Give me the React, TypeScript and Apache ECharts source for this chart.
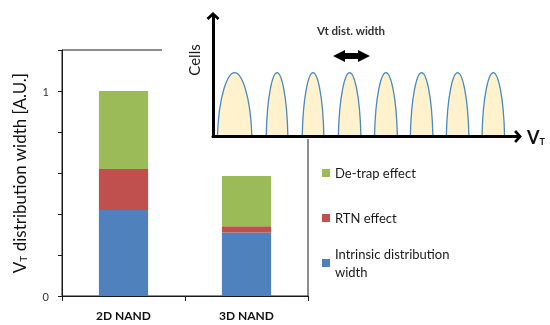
import React, { useEffect, useRef } from 'react';
import * as echarts from 'echarts';

const categories = ['2D NAND', '3D NAND'];
const intrinsicWidth = [0.42, 0.31];
const rtnEffect = [0.2, 0.03];
const detrapEffect = [0.38, 0.245];
const yTickValues = [0, 1];
const yTickLabels = ['0', '1'];

const seriesNames = ['Intrinsic distribution width', 'RTN effect', 'De-trap effect'];
const seriesColors = ['#4f81bd', '#c0504d', '#9bbb59'];

// inset: schematic Vt distributions
const humpCenters = [7.1, 21.0, 32.8, 44.8, 56.7, 68.4, 80.2, 91.9];
const humpWidths = [11.3, 7.1, 7.1, 7.4, 7.5, 7.4, 7.4, 7.4];
const humpHeights = [53, 53, 53, 53, 53, 53, 53, 53];

const FONT = 'Lato, "Open Sans", sans-serif';
const arrowPath = 'path://M0,9 L10,0 L20,9 L17,12 L10,5.5 L3,12 Z';

export default function App() {
  const ref = useRef<HTMLDivElement>(null);
  useEffect(() => {
    const chart = echarts.init(ref.current!, null, { renderer: 'svg' });
    const humpData = humpCenters.map((c, i) => [c, humpWidths[i], humpHeights[i]]);
    const legendText = { fontSize: 13, lineHeight: 18, color: '#1a1a1a', fontFamily: FONT };
    const mkLegend = (name: string, top: number, extra: any = {}) => ({
      data: [name],
      orient: 'vertical',
      left: 322,
      top,
      padding: 0,
      itemWidth: 8,
      itemHeight: 8,
      icon: 'rect',
      selectedMode: false,
      textStyle: { ...legendText, ...(extra.textStyle || {}) },
      ...(extra.formatter ? { formatter: extra.formatter } : {}),
    });
    const values = [intrinsicWidth, rtnEffect, detrapEffect];
    chart.setOption({
      animation: false,
      textStyle: { fontFamily: FONT },
      grid: [
        { left: 62, right: 242, top: 50, bottom: 29, show: true, borderColor: '#1a1a1a', borderWidth: 1, z: 0 },
        { left: 213, right: 32, top: 16, bottom: 188.5, z: 100 },
      ],
      xAxis: [
        {
          type: 'category',
          gridIndex: 0,
          data: categories,
          axisLine: { lineStyle: { color: '#1a1a1a' } },
          axisTick: { show: true, length: 5, lineStyle: { color: '#1a1a1a' } },
          axisLabel: { fontWeight: 'bold', fontSize: 12, color: '#111', margin: 13, fontFamily: FONT },
        },
        {
          type: 'value',
          gridIndex: 1,
          min: 0,
          max: 100,
          z: 100,
          axisLine: { show: true, symbol: ['none', arrowPath], symbolSize: [13, 12], lineStyle: { color: '#000', width: 3 } },
          axisTick: { show: false },
          axisLabel: { show: false },
          splitLine: { show: false },
          name: '{v|V}{t|T}',
          nameLocation: 'end',
          nameGap: 9,
          nameTextStyle: {
            rich: {
              v: { fontSize: 18, fontWeight: 'bold', color: '#111', fontFamily: FONT },
              t: { fontSize: 9, fontWeight: 'bold', color: '#111', verticalAlign: 'bottom', fontFamily: FONT },
            },
          },
        },
      ],
      yAxis: [
        {
          type: 'value',
          gridIndex: 0,
          min: 0,
          max: 1.2,
          interval: 0.2,
          splitLine: { show: false },
          axisLine: { show: true, lineStyle: { color: '#1a1a1a' } },
          axisTick: { show: true, length: 4, lineStyle: { color: '#1a1a1a' } },
          axisLabel: {
            fontSize: 11,
            color: '#333',
            margin: 13,
            fontFamily: FONT,
            formatter: (v: number) => {
              const i = yTickValues.findIndex((t) => Math.abs(t - v) < 1e-6);
              return i >= 0 ? yTickLabels[i] : '';
            },
          },
          name: '{a|V}{b|T}{a| distribution width [A.U.]}',
          nameLocation: 'middle',
          nameGap: 34,
          nameRotate: 90,
          nameTextStyle: {
            rich: {
              a: { fontSize: 17, color: '#111', fontFamily: FONT },
              b: { fontSize: 10, color: '#111', verticalAlign: 'bottom', fontFamily: FONT },
            },
          },
        },
        {
          type: 'value',
          gridIndex: 1,
          min: 0,
          max: 100,
          z: 100,
          axisLine: { show: true, symbol: ['none', arrowPath], symbolSize: [13, 12], lineStyle: { color: '#000', width: 3 } },
          axisTick: { show: false },
          axisLabel: { show: false },
          splitLine: { show: false },
        },
      ],
      legend: [
        mkLegend('De-trap effect', 164),
        mkLegend('RTN effect', 209),
        mkLegend('Intrinsic distribution width', 236, {
          formatter: () => 'Intrinsic distribution\nwidth',
          textStyle: { padding: [18, 0, 0, 0] },
        }),
      ],
      series: [
        ...seriesNames.map((name, i) => ({
          name,
          type: 'bar',
          stack: 'total',
          xAxisIndex: 0,
          yAxisIndex: 0,
          barWidth: '40%',
          data: values[i],
          itemStyle: { color: seriesColors[i] },
        })),
        {
          type: 'custom',
          xAxisIndex: 1,
          yAxisIndex: 1,
          z: 90,
          silent: true,
          data: humpData,
          renderItem: (params: any, api: any) => {
            const c = api.value(0);
            const w = api.value(1);
            const h = api.value(2);
            const L = c - w / 2;
            const R = c + w / 2;
            const p = (x: number, y: number) => api.coord([x, y]);
            const pts = [
              p(L, 0),
              p(L + 0.04 * w, 0.66 * h),
              p(c - 0.2 * w, h),
              p(c, h),
              p(c + 0.2 * w, h),
              p(R - 0.04 * w, 0.66 * h),
              p(R, 0),
            ];
            const f = (q: number[]) => q[0].toFixed(2) + ' ' + q[1].toFixed(2);
            const d = `M${f(pts[0])} C${f(pts[1])} ${f(pts[2])} ${f(pts[3])} C${f(pts[4])} ${f(pts[5])} ${f(pts[6])} Z`;
            return {
              type: 'path',
              shape: { pathData: d },
              style: { fill: '#fff2cc', stroke: '#4a8abd', lineWidth: 1.3 },
            };
          },
        },
      ],
      graphic: [
        { type: 'rect', z: 50, shape: { x: 162, y: 0, width: 388, height: 139 }, style: { fill: '#fff' } },
        {
          type: 'text',
          z: 110,
          x: 194,
          y: 60,
          rotation: Math.PI / 2,
          style: { text: 'Cells', fontSize: 15, fontFamily: FONT, fill: '#1a1a1a', align: 'center', verticalAlign: 'middle' },
        },
        {
          type: 'text',
          z: 110,
          x: 351,
          y: 30,
          style: { text: 'Vt dist. width', fontSize: 11.5, fontWeight: 'bold', fontFamily: FONT, fill: '#333', align: 'center', verticalAlign: 'middle' },
        },
        {
          type: 'polygon',
          z: 110,
          shape: {
            points: [
              [333, 56], [345, 50], [345, 53], [358, 53], [358, 50],
              [370, 56], [358, 62], [358, 59], [345, 59], [345, 62],
            ],
          },
          style: { fill: '#000' },
        },
      ],
    });
    return () => chart.dispose();
  }, []);
  return <div ref={ref} style={{ position: 'fixed', left: 0, top: 0, width: 550, height: 325 }} />;
}
